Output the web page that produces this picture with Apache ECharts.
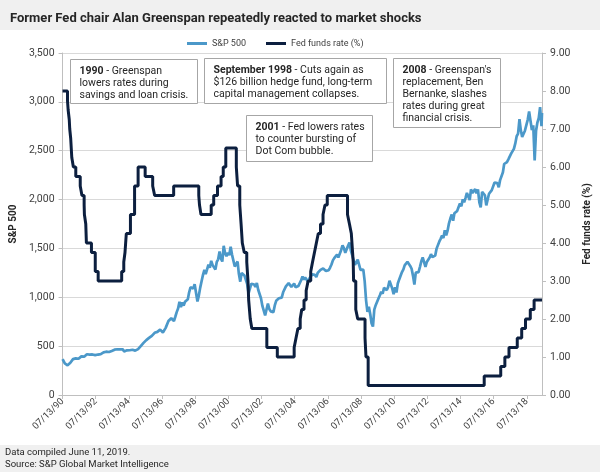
<!DOCTYPE html>
<html>
<head>
<meta charset="utf-8">
<script src="https://cdn.jsdelivr.net/npm/echarts@6/dist/echarts.min.js"></script>
<style>
  html, body { margin: 0; padding: 0; background: #fff; }
  #main_chart { width: 600px; height: 472px; }
</style>
</head>
<body>
<div id="main_chart"></div>
<script>
// 刻度标签（每两年一个）
var tickLabels = ['07/13/90', '07/13/92', '07/13/94', '07/13/96', '07/13/98', '07/13/00', '07/13/02',
    '07/13/04', '07/13/06', '07/13/08', '07/13/10', '07/13/12', '07/13/14', '07/13/16', '07/13/18'];

var startDate = '1990-07-13';
var endDate = '2019-06-11';

// S&P 500 月末收盘（1990-07 起）
var spFirst = 367;
var spClose = [
    356, 323, 306, 304, 322, 330,
    344, 367, 375, 375, 390, 371, 388, 395, 388, 392, 375, 417,
    409, 413, 404, 415, 415, 408, 424, 414, 418, 419, 431, 436,
    439, 443, 452, 440, 450, 451, 448, 464, 459, 468, 462, 466,
    481, 467, 446, 451, 457, 444, 458, 475, 463, 472, 454, 459,
    470, 487, 501, 515, 533, 545, 562, 562, 584, 582, 605, 616,
    636, 640, 646, 654, 669, 671, 640, 652, 687, 705, 757, 741,
    786, 791, 757, 801, 848, 885, 954, 899, 947, 915, 955, 970,
    980, 1049, 1102, 1112, 1091, 1134, 1121, 957, 1017, 1099, 1164, 1229,
    1280, 1238, 1286, 1335, 1302, 1373, 1329, 1320, 1283, 1363, 1389, 1469,
    1394, 1366, 1527, 1452, 1421, 1455, 1431, 1518, 1437, 1429, 1315, 1320,
    1366, 1240, 1160, 1249, 1256, 1224, 1211, 1134, 1041, 1060, 1139, 1148,
    1130, 1107, 1147, 1077, 1067, 990, 912, 916, 815, 800, 936, 880,
    856, 841, 848, 917, 964, 975, 990, 1008, 996, 1051, 1058, 1112,
    1131, 1145, 1126, 1107, 1121, 1141, 1102, 1104, 1115, 1130, 1174, 1212,
    1181, 1204, 1181, 1157, 1192, 1191, 1234, 1220, 1229, 1207, 1249, 1248,
    1280, 1281, 1295, 1311, 1270, 1270, 1277, 1304, 1336, 1378, 1401, 1418,
    1438, 1407, 1421, 1482, 1531, 1503, 1455, 1474, 1527, 1560, 1481, 1468,
    1379, 1331, 1323, 1386, 1400, 1280, 1267, 1283, 1166, 969, 850, 903,
    826, 735, 700, 873, 919, 919, 987, 1021, 1057, 1036, 1096, 1115,
    1074, 1104, 1169, 1187, 1089, 1031, 1102, 1049, 1141, 1183, 1181, 1258,
    1286, 1327, 1326, 1364, 1345, 1321, 1292, 1219, 1131, 1253, 1247, 1258,
    1312, 1366, 1408, 1398, 1310, 1362, 1379, 1407, 1441, 1412, 1416, 1426,
    1498, 1515, 1569, 1598, 1631, 1606, 1686, 1633, 1682, 1757, 1806, 1848,
    1783, 1859, 1872, 1884, 1924, 1960, 1931, 2003, 1972, 2018, 2068, 2059,
    1995, 2105, 2068, 2086, 2107, 2063, 2104, 1972, 1920, 2079, 2080, 2044,
    1940, 1932, 2060, 2065, 2097, 2099, 2174, 2171, 2168, 2126, 2199, 2239,
    2279, 2364, 2363, 2384, 2412, 2423, 2470, 2472, 2519, 2575, 2648, 2674,
    2824, 2714, 2641, 2648, 2705, 2718, 2816, 2902, 2914, 2712, 2760, 2400,
    2704, 2784, 2834, 2946, 2752, 2886
];

// 联邦基金目标利率变动
var fedDates = ['1990-07-13', '1990-10-29', '1990-11-13', '1990-12-07', '1990-12-18', '1991-01-08',
    '1991-02-01', '1991-03-08', '1991-04-30', '1991-08-06', '1991-09-13', '1991-10-31', '1991-11-06',
    '1991-12-06', '1991-12-20', '1992-04-09', '1992-07-02', '1992-09-04', '1994-02-04', '1994-03-22',
    '1994-04-18', '1994-05-17', '1994-08-16', '1994-11-15', '1995-02-01', '1995-07-06', '1995-12-19',
    '1996-01-31', '1997-03-25', '1998-09-29', '1998-10-15', '1998-11-17', '1999-06-30', '1999-08-24',
    '1999-11-16', '2000-02-02', '2000-03-21', '2000-05-16', '2001-01-03', '2001-01-31', '2001-03-20',
    '2001-04-18', '2001-05-15', '2001-06-27', '2001-08-21', '2001-09-17', '2001-10-02', '2001-11-06',
    '2001-12-11', '2002-11-06', '2003-06-25', '2004-06-30', '2004-08-10', '2004-09-21', '2004-11-10',
    '2004-12-14', '2005-02-02', '2005-03-22', '2005-05-03', '2005-06-30', '2005-08-09', '2005-09-20',
    '2005-11-01', '2005-12-13', '2006-01-31', '2006-03-28', '2006-05-10', '2006-06-29', '2007-09-18',
    '2007-10-31', '2007-12-11', '2008-01-22', '2008-01-30', '2008-03-18', '2008-04-30', '2008-10-08',
    '2008-10-29', '2008-12-16', '2015-12-16', '2016-12-14', '2017-03-15', '2017-06-14', '2017-12-13',
    '2018-03-21', '2018-06-13', '2018-09-26', '2018-12-19', '2019-06-11'];
var fedRates = [8.00, 7.75, 7.50, 7.25, 7.00, 6.75,
    6.25, 6.00, 5.75, 5.50, 5.25, 5.00, 4.75,
    4.50, 4.00, 3.75, 3.25, 3.00, 3.25, 3.50,
    3.75, 4.25, 4.75, 5.50, 6.00, 5.75, 5.50,
    5.25, 5.50, 5.25, 5.00, 4.75, 5.00, 5.25,
    5.50, 5.75, 6.00, 6.50, 6.00, 5.50, 5.00,
    4.50, 4.00, 3.75, 3.50, 3.00, 2.50, 2.00,
    1.75, 1.25, 1.00, 1.25, 1.50, 1.75, 2.00,
    2.25, 2.50, 2.75, 3.00, 3.25, 3.50, 3.75,
    4.00, 4.25, 4.50, 4.75, 5.00, 5.25, 4.75,
    4.50, 4.25, 3.50, 3.00, 2.25, 2.00, 1.50,
    1.00, 0.25, 0.50, 0.75, 1.00, 1.25, 1.50,
    1.75, 2.00, 2.25, 2.50, 2.50];

var yearMs = 365.25 * 86400000;
var t0 = Date.parse(startDate);
var tEnd = Date.parse(endDate);
function toYears(t) { return (t - t0) / yearMs; }

// S&P 数据点：[距起点年数, 点位]
var spData = [[0, spFirst]];
spClose.forEach(function (v, i) {
    var t = Math.min(Date.UTC(1990, 7 + i, 0), tEnd);
    spData.push([toYears(t), v]);
});
var fedData = fedDates.map(function (d, i) {
    return [toYears(Date.parse(d)), fedRates[i]];
});

function thousands(v) {
    return String(v).replace(/\B(?=(\d{3})+(?!\d))/g, ',');
}

var FONT = 'Roboto';
var labelColor = '#404040';

function noteBox(x, y, w, h, text) {
    return {
        type: 'group',
        left: x, top: y, z: 100,
        children: [
            { type: 'rect', z: 100, shape: { x: 0, y: 0, width: w, height: h },
              style: { fill: '#fff', stroke: '#a6a6a6', lineWidth: 1 } },
            { type: 'text', z: 101, x: 9, y: 6,
              style: { text: text, fontFamily: FONT, fontSize: 10.5, lineHeight: 12, fill: '#262626',
                       rich: { b: { fontWeight: 'bold', fontFamily: FONT, fontSize: 10.5, lineHeight: 12, fill: '#262626' } } } }
        ]
    };
}

const myChart = echarts.init(document.getElementById('main_chart'));

var option = {
    backgroundColor: '#fff',
    animation: false,
    textStyle: { fontFamily: FONT },
    title: {
        text: 'Former Fed chair Alan Greenspan repeatedly reacted to market shocks',
        left: 5, top: 7,
        textStyle: { fontFamily: FONT, fontSize: 13, fontWeight: 'bold', color: '#262626' }
    },
    legend: {
        left: 182, top: 34,
        itemWidth: 20, itemHeight: 3, itemGap: 20,
        icon: 'rect',
        textStyle: { fontSize: 9, color: labelColor, fontFamily: FONT },
        data: ['S&P 500', 'Fed funds rate (%)']
    },
    grid: { left: 57, right: 52, top: 53, bottom: 77 },
    xAxis: {
        type: 'value',
        min: 0,
        max: toYears(tEnd),
        interval: 2,
        axisLine: { lineStyle: { color: '#bfbfbf' } },
        axisTick: { show: true, length: 4, lineStyle: { color: '#bfbfbf' } },
        splitLine: { show: false },
        axisLabel: {
            rotate: 45, fontSize: 9.5, color: labelColor, margin: 5,
            showMaxLabel: false,
            formatter: function (v) {
                var k = Math.round(v / 2);
                return Math.abs(v - 2 * k) < 1e-6 && tickLabels[k] ? tickLabels[k] : '';
            }
        }
    },
    yAxis: [
        {
            type: 'value', min: 0, max: 3500, interval: 500,
            name: 'S&P 500', nameLocation: 'middle', nameGap: 41, nameRotate: 90,
            nameTextStyle: { fontSize: 10, fontWeight: 'bold', color: '#262626' },
            axisLine: { show: true, lineStyle: { color: '#bfbfbf' } },
            axisTick: { show: true, length: 4, lineStyle: { color: '#bfbfbf' } },
            splitLine: { lineStyle: { color: '#d9d9d9' } },
            axisLabel: { fontSize: 10.5, color: labelColor, margin: 8, formatter: thousands }
        },
        {
            type: 'value', min: 0, max: 9, interval: 1, position: 'right',
            name: 'Fed funds rate (%)', nameLocation: 'middle', nameGap: 40, nameRotate: 90,
            nameTextStyle: { fontSize: 10, fontWeight: 'bold', color: '#262626' },
            axisLine: { show: true, lineStyle: { color: '#bfbfbf' } },
            axisTick: { show: true, length: 4, lineStyle: { color: '#bfbfbf' } },
            splitLine: { show: false },
            axisLabel: { fontSize: 10.5, color: labelColor, margin: 8,
                         formatter: function (v) { return v.toFixed(2); } }
        }
    ],
    series: [
        {
            name: 'S&P 500', type: 'line', yAxisIndex: 0,
            data: spData, showSymbol: false,
            itemStyle: { color: '#4b98c9' },
            lineStyle: { color: '#4b98c9', width: 2.7 }
        },
        {
            name: 'Fed funds rate (%)', type: 'line', yAxisIndex: 1,
            data: fedData, step: 'end', showSymbol: false,
            itemStyle: { color: '#0c1f3f' },
            lineStyle: { color: '#0c1f3f', width: 3 }
        }
    ],
    graphic: [
        { type: 'rect', z: -10, left: 0, top: 0, shape: { width: 600, height: 30 }, style: { fill: '#f0f0f0' } },
        { type: 'rect', z: -10, left: 0, top: 445, shape: { width: 600, height: 27 }, style: { fill: '#f0f0f0' } },
        { type: 'text', left: 5, top: 447,
          style: { text: 'Data compiled June 11, 2019.\nSource: S&P Global Market Intelligence',
                   fontFamily: FONT, fontSize: 9.5, lineHeight: 12, fill: '#262626' } },
        noteBox(70, 59, 127, 44, '{b|1990} - Greenspan\nlowers rates during\nsavings and loan crisis.'),
        noteBox(204, 58, 182, 45, '{b|September 1998} - Cuts again as\n$126 billion hedge fund, long-term\ncapital management collapses.'),
        noteBox(246, 115, 126, 46, '{b|2001} - Fed lowers rates\nto counter bursting of\nDot Com bubble.'),
        noteBox(393, 58, 107, 69, '{b|2008} - Greenspan\'s\nreplacement, Ben\nBernanke, slashes\nrates during great\nfinancial crisis.')
    ]
};

myChart.setOption(option);
window.onresize = function () {
    myChart.resize();
};
</script>
</body>
</html>
